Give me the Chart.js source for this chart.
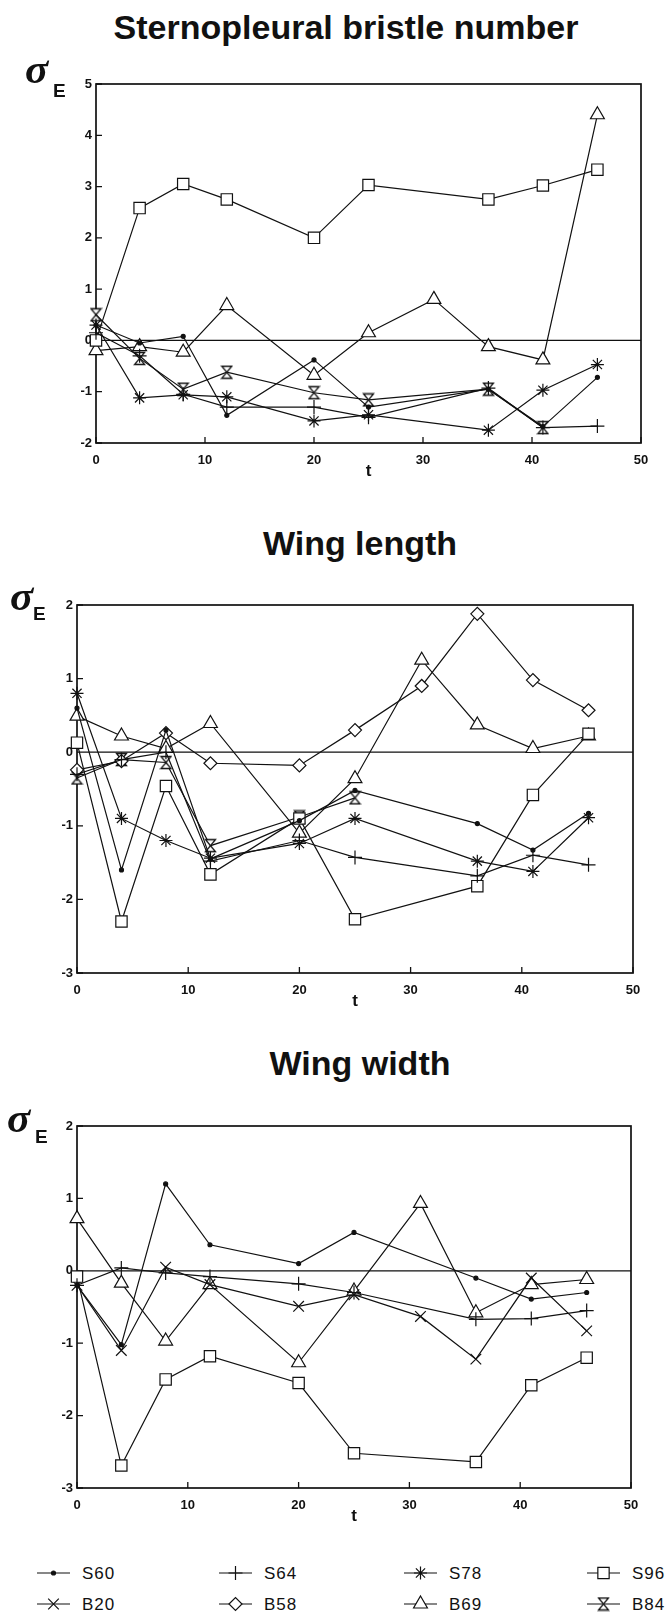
<!DOCTYPE html>
<html>
<head>
<meta charset="utf-8">
<title>sigma E over t</title>
<script src="https://cdn.jsdelivr.net/npm/chart.js@4.4.1/dist/chart.umd.min.js"></script>
<style>
  body { margin: 0; background: #fff; }
  #page { position: relative; width: 671px; height: 1615px; overflow: hidden; font-family: "Liberation Sans", Arial, sans-serif; color: #111; }
  #page canvas { position: absolute; left: 0; }
  .txt { position: absolute; white-space: nowrap; line-height: 1; }
</style>
</head>
<body>
<div id="page"></div>
<script>
// generations sampled
const T = [0, 4, 8, 12, 20, 25, 31, 36, 41, 46];

// Sternopleural bristle number
const bristleS60 = [0.3, -0.05, 0.08, -1.46, -0.38, -1.3, null, -0.95, -1.68, -0.72];
const bristleS64 = [0.15, -0.3, -1.05, -1.3, -1.3, -1.5, null, -0.93, -1.7, -1.67];
const bristleS78 = [0.3, -1.12, -1.06, -1.1, -1.57, -1.45, null, -1.75, -0.97, -0.47];
const bristleS96 = [0.0, 2.58, 3.05, 2.75, 2.0, 3.03, null, 2.75, 3.02, 3.33];
const bristleB69 = [-0.2, -0.12, -0.23, 0.68, -0.68, 0.15, 0.8, -0.12, -0.38, 4.4];
const bristleB84 = [0.5, -0.35, -0.95, -0.62, -1.02, -1.16, null, -0.95, -1.7, null];

// Wing length
const lengthS60 = [0.6, -1.6, 0.3, -1.45, -0.93, -0.52, null, -0.97, -1.33, -0.83];
const lengthS64 = [-0.3, -0.1, 0.0, -1.48, -1.2, -1.43, null, -1.68, -1.4, -1.53];
const lengthS78 = [0.8, -0.9, -1.2, -1.44, -1.24, -0.9, null, -1.48, -1.62, -0.89];
const lengthS96 = [0.13, -2.3, -0.46, -1.66, -0.9, -2.27, null, -1.82, -0.58, 0.25];
const lengthB58 = [-0.24, -0.12, 0.26, -0.15, -0.18, 0.3, 0.9, 1.88, 0.98, 0.57];
const lengthB69 = [0.49, 0.22, 0.05, 0.39, -1.1, -0.36, 1.25, 0.37, 0.05, 0.22];
const lengthB84 = [-0.35, -0.1, -0.14, -1.27, -0.88, -0.62, null, null, null, null];

// Wing width
const widthS60 = [-0.2, -1.02, 1.2, 0.36, 0.1, 0.53, null, -0.1, -0.39, -0.3];
const widthS64 = [-0.2, 0.04, -0.03, -0.08, -0.18, -0.3, null, -0.67, -0.66, -0.55];
const widthS96 = [-0.08, -2.69, -1.5, -1.18, -1.55, -2.52, null, -2.64, -1.58, -1.2];
const widthB20 = [-0.2, -1.1, 0.05, -0.19, -0.49, -0.33, -0.63, -1.22, -0.1, -0.83];
const widthB69 = [0.72, -0.17, -0.97, -0.19, -1.27, -0.28, 0.93, -0.58, -0.19, -0.12];

const bristleTicks = [-2, -1, 0, 1, 2, 3, 4, 5];
const wingTicks = [-3, -2, -1, 0, 1, 2];
const tTicks = [0, 10, 20, 30, 40, 50];

const LEGEND_ROWS = [['S60', 'S64', 'S78', 'S96'], ['B20', 'B58', 'B69', 'B84']];

const INK = '#111';
const page = document.getElementById('page');
Chart.defaults.font.family = '"Liberation Sans", Arial, sans-serif';
Chart.defaults.color = INK;

function makeHourglass() {
  const c = document.createElement('canvas');
  c.width = 13; c.height = 15;
  const g = c.getContext('2d');
  g.fillStyle = '#fff'; g.strokeStyle = INK; g.lineWidth = 1.3;
  g.beginPath();
  g.moveTo(1.5, 1.5); g.lineTo(11.5, 1.5); g.lineTo(1.5, 13.5); g.lineTo(11.5, 13.5);
  g.closePath(); g.fill(); g.stroke();
  return c;
}

const MARK = {
  S60: { pointStyle: 'circle', radius: 2, fill: INK },
  S64: { pointStyle: 'cross', radius: 7, fill: '#fff' },
  S78: { pointStyle: 'star', radius: 6.5, fill: '#fff' },
  S96: { pointStyle: 'rect', radius: 8, fill: '#fff' },
  B20: { pointStyle: 'crossRot', radius: 7.5, fill: '#fff' },
  B58: { pointStyle: 'rectRot', radius: 6.5, fill: '#fff' },
  B69: { pointStyle: 'triangle', radius: 8, fill: '#fff' },
  B84: { pointStyle: makeHourglass(), radius: 6, fill: '#fff' }
};

function series(name, values) {
  const m = MARK[name];
  return {
    label: name,
    data: values.map((v, i) => ({ x: T[i], y: v })),
    borderColor: INK,
    borderWidth: 1.2,
    tension: 0,
    spanGaps: true,
    clip: false,
    pointStyle: m.pointStyle,
    pointRadius: m.radius,
    pointBorderColor: INK,
    pointBackgroundColor: m.fill,
    pointBorderWidth: 1.2
  };
}

// box, zero line and inward tick marks
const frame = {
  id: 'frame',
  beforeDatasetsDraw(chart) {
    const { ctx, chartArea: a, scales: { x, y } } = chart;
    ctx.save();
    ctx.strokeStyle = INK;
    ctx.lineWidth = 1.3;
    const y0 = y.getPixelForValue(0);
    ctx.beginPath();
    ctx.moveTo(a.left, y0); ctx.lineTo(a.right, y0);
    y.ticks.forEach(t => {
      const p = y.getPixelForValue(t.value);
      ctx.moveTo(a.left, p); ctx.lineTo(a.left + 6, p);
    });
    x.ticks.forEach(t => {
      const p = x.getPixelForValue(t.value);
      ctx.moveTo(p, a.bottom); ctx.lineTo(p, a.bottom - 6);
    });
    ctx.stroke();
    ctx.lineWidth = 1.7;
    ctx.strokeRect(a.left, a.top, a.right - a.left, a.bottom - a.top);
    ctx.restore();
  }
};

const PANELS = [
  { title: 'Sternopleural bristle number', box: [96, 641, 84, 443], yTicks: bristleTicks,
    sets: [['S60', bristleS60], ['S64', bristleS64], ['S78', bristleS78], ['S96', bristleS96], ['B69', bristleB69], ['B84', bristleB84]] },
  { title: 'Wing length', box: [77, 633, 605, 973], yTicks: wingTicks,
    sets: [['S60', lengthS60], ['S64', lengthS64], ['S78', lengthS78], ['S96', lengthS96], ['B58', lengthB58], ['B69', lengthB69], ['B84', lengthB84]] },
  { title: 'Wing width', box: [77, 631, 1126, 1488], yTicks: wingTicks,
    sets: [['S60', widthS60], ['S64', widthS64], ['S96', widthS96], ['B20', widthB20], ['B69', widthB69]] }
];

function panel(p) {
  const [L, R, top, bottom] = p.box;
  const PAD_TOP = 20, AXIS_H = 37;
  const canvas = document.createElement('canvas');
  canvas.width = 671;
  canvas.height = PAD_TOP + bottom - top + AXIS_H;
  canvas.style.top = (top - PAD_TOP) + 'px';
  page.appendChild(canvas);

  new Chart(canvas, {
    type: 'line',
    data: { datasets: p.sets.map(([n, v]) => series(n, v)) },
    options: {
      responsive: false,
      animation: false,
      devicePixelRatio: 1,
      events: [],
      layout: { padding: { top: PAD_TOP, right: 671 - R, left: 0, bottom: 0 } },
      plugins: { legend: { display: false }, tooltip: { enabled: false } },
      scales: {
        x: {
          type: 'linear',
          min: tTicks[0], max: tTicks[tTicks.length - 1],
          afterFit: s => { s.height = AXIS_H; },
          afterBuildTicks: s => { s.ticks = tTicks.map(v => ({ value: v })); },
          grid: { display: false, drawTicks: false },
          border: { display: false },
          ticks: { padding: 10, color: INK, font: { size: 13, weight: 'bold' } },
          title: { display: true, text: 't', color: INK, padding: 0, font: { size: 17, weight: 'bold', lineHeight: 1 } }
        },
        y: {
          type: 'linear',
          min: p.yTicks[0], max: p.yTicks[p.yTicks.length - 1],
          afterFit: s => { s.width = L; },
          afterBuildTicks: s => { s.ticks = p.yTicks.map(v => ({ value: v })); },
          grid: { display: false, drawTicks: false },
          border: { display: false },
          ticks: { padding: 4, color: INK, font: { size: 13, weight: 'bold' } }
        }
      }
    },
    plugins: [frame]
  });
}

PANELS.forEach(panel);

// text placed by baseline
function text(str, x, base, size, opts) {
  const o = Object.assign({ family: '"Liberation Sans", Arial, sans-serif', weight: 'bold', style: 'normal', align: 'left', asc: 0.8465 }, opts);
  const d = document.createElement('div');
  d.className = 'txt';
  d.textContent = str;
  d.style.fontFamily = o.family;
  d.style.fontWeight = o.weight;
  d.style.fontStyle = o.style;
  d.style.fontSize = size + 'px';
  d.style.top = (base - o.asc * size) + 'px';
  d.style.left = x + 'px';
  if (o.align === 'center') d.style.transform = 'translateX(-50%)';
  if (o.spacing) d.style.letterSpacing = o.spacing;
  page.appendChild(d);
}

const SIGMA = { family: '"Liberation Serif", "DejaVu Serif", serif', style: 'italic', asc: 0.8375 };
text(PANELS[0].title, 346, 39, 34, { align: 'center' });
text(PANELS[1].title, 360, 555, 34, { align: 'center' });
text(PANELS[2].title, 360, 1075, 34, { align: 'center' });
[[25, 83, 53, 97], [10, 610, 33, 620], [7, 1132, 35, 1143]].forEach(([sx, sb, ex, eb]) => {
  text('σ', sx, sb, 43, SIGMA);
  text('E', ex, eb, 19);
});

// legend
const LEGEND_X = [37, 219, 404, 587];
const LEGEND_Y = [1573, 1604];
LEGEND_ROWS.forEach((row, r) => {
  row.forEach((name, c) => {
    const cv = document.createElement('canvas');
    cv.width = 40; cv.height = 22;
    cv.style.left = (LEGEND_X[c] - 2) + 'px';
    cv.style.top = (LEGEND_Y[r] - 11) + 'px';
    page.appendChild(cv);
    const g = cv.getContext('2d');
    g.strokeStyle = INK; g.lineWidth = 1.2;
    g.beginPath(); g.moveTo(2, 11); g.lineTo(35, 11); g.stroke();
    const m = MARK[name];
    g.fillStyle = m.fill;
    if (Chart.helpers && Chart.helpers.drawPoint) {
      Chart.helpers.drawPoint(g, { pointStyle: m.pointStyle, radius: m.radius, rotation: 0, borderWidth: 1.2 }, 18.5, 11);
    }
    text(name, LEGEND_X[c] + 45, LEGEND_Y[r] + 6, 17, { weight: 'normal', spacing: '1px' });
  });
});
</script>
</body>
</html>
